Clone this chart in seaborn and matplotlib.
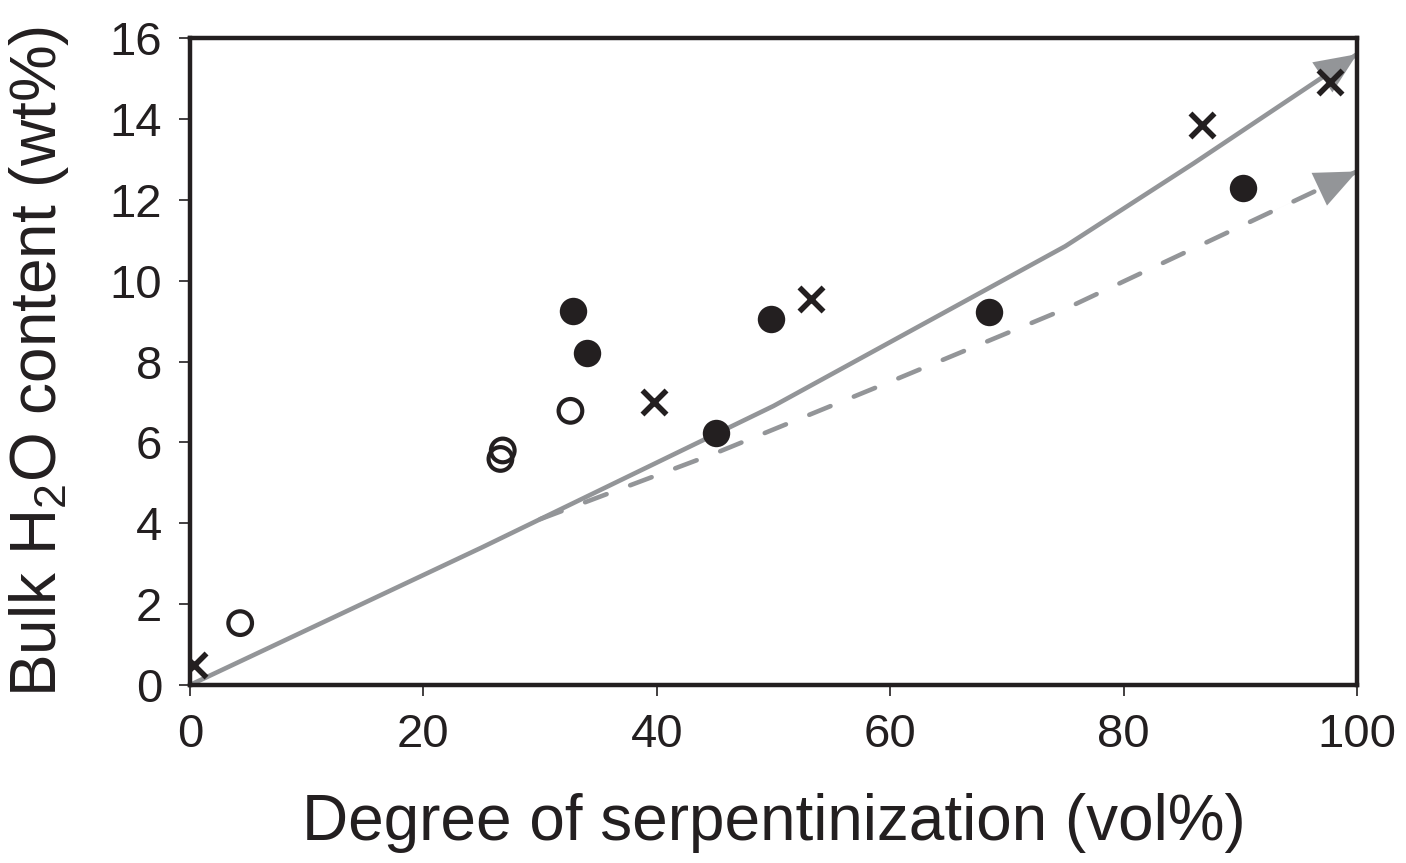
import matplotlib
matplotlib.use("Agg")
import matplotlib.pyplot as plt
import seaborn as sns
import pandas as pd

# ---- data ----
cross_x = [0.3, 39.8, 53.2, 86.7, 97.7]
cross_y = [0.5, 7.0, 9.55, 13.85, 14.9]

filled_x = [32.8, 34.0, 45.1, 49.8, 68.5, 90.2]
filled_y = [9.25, 8.2, 6.23, 9.05, 9.22, 12.3]

open_x = [4.3, 26.8, 26.6, 32.6]
open_y = [1.53, 5.8, 5.59, 6.78]

solid_x = [0, 25, 50, 75, 86, 100]
solid_y = [0, 3.4, 6.9, 10.85, 12.9, 15.6]

dash_x = [30, 45, 60, 75, 100]
dash_y = [4.1, 5.73, 7.5, 9.3, 12.7]

x_ticks = [0, 20, 40, 60, 80, 100]
y_ticks = [0, 2, 4, 6, 8, 10, 12, 14, 16]

BLACK = "#231f20"
GRAY = "#939598"

sns.set_theme(style="white")
plt.rcParams["font.family"] = ["Liberation Sans", "DejaVu Sans"]
plt.rcParams["mathtext.fontset"] = "custom"
plt.rcParams["mathtext.rm"] = "Liberation Sans"
plt.rcParams["mathtext.it"] = "Liberation Sans"

fig = plt.figure(figsize=(14.06, 8.63), dpi=100)
ax = fig.add_axes([190 / 1406, 1 - 685 / 863, (1357 - 190) / 1406, (685 - 38) / 863])

solid_df = pd.DataFrame({"x": solid_x, "y": solid_y})
dash_df = pd.DataFrame({"x": dash_x, "y": dash_y})

sns.lineplot(data=solid_df, x="x", y="y", ax=ax, color=GRAY, linewidth=3.3,
             sort=False, estimator=None, zorder=2)
ax.lines[-1].set_solid_capstyle("round")
sns.lineplot(data=dash_df, x="x", y="y", ax=ax, color=GRAY, linewidth=3.3,
             sort=False, estimator=None, zorder=2)
dline = ax.lines[-1]
dline.set_dashes((5.0, 5.5))
dline.set_dash_capstyle("round")

# arrowheads at the end of each curve, oriented along the last segment
for xs, ys in [(solid_x, solid_y), (dash_x, dash_y)]:
    fx = xs[-1] - 0.3 * (xs[-1] - xs[-2])
    fy = ys[-1] - 0.3 * (ys[-1] - ys[-2])
    ax.annotate("", xy=(xs[-1], ys[-1]), xytext=(fx, fy),
                arrowprops=dict(arrowstyle="-|>,head_length=1.5,head_width=0.65",
                                mutation_scale=20, color=GRAY, lw=0.01,
                                shrinkA=0, shrinkB=0),
                zorder=2)

sns.scatterplot(x=filled_x, y=filled_y, ax=ax, marker="o", s=390,
                color=BLACK, edgecolor=BLACK, linewidth=0, zorder=3)
sns.scatterplot(x=open_x, y=open_y, ax=ax, marker="o", s=290,
                facecolor="none", edgecolor=BLACK, linewidth=3.0, zorder=3)
sns.scatterplot(x=cross_x, y=cross_y, ax=ax, marker="x", s=300,
                color=BLACK, linewidth=4.0, zorder=3)

ax.set_xlim(0, 100)
ax.set_ylim(0, 16)
ax.set_xticks(x_ticks)
ax.set_yticks(y_ticks)
ax.set_xticklabels([str(v) for v in x_ticks])
ax.set_yticklabels([str(v) for v in y_ticks])

for sp in ax.spines.values():
    sp.set_visible(True)
    sp.set_color(BLACK)
    sp.set_linewidth(3.2)

ax.tick_params(axis="both", direction="out", length=8, width=1.2, color=BLACK,
               labelsize=34, labelcolor=BLACK, bottom=True, left=True)
ax.tick_params(axis="x", pad=12)
ax.tick_params(axis="y", pad=12)

ax.set_xlabel("Degree of serpentinization (vol%)", fontsize=46, color=BLACK, labelpad=26)
ax.set_ylabel(r"Bulk H$_\mathregular{2}$O content (wt%)", fontsize=46, color=BLACK, labelpad=28)
ax.grid(False)

fig.savefig("out.png", dpi=100)
